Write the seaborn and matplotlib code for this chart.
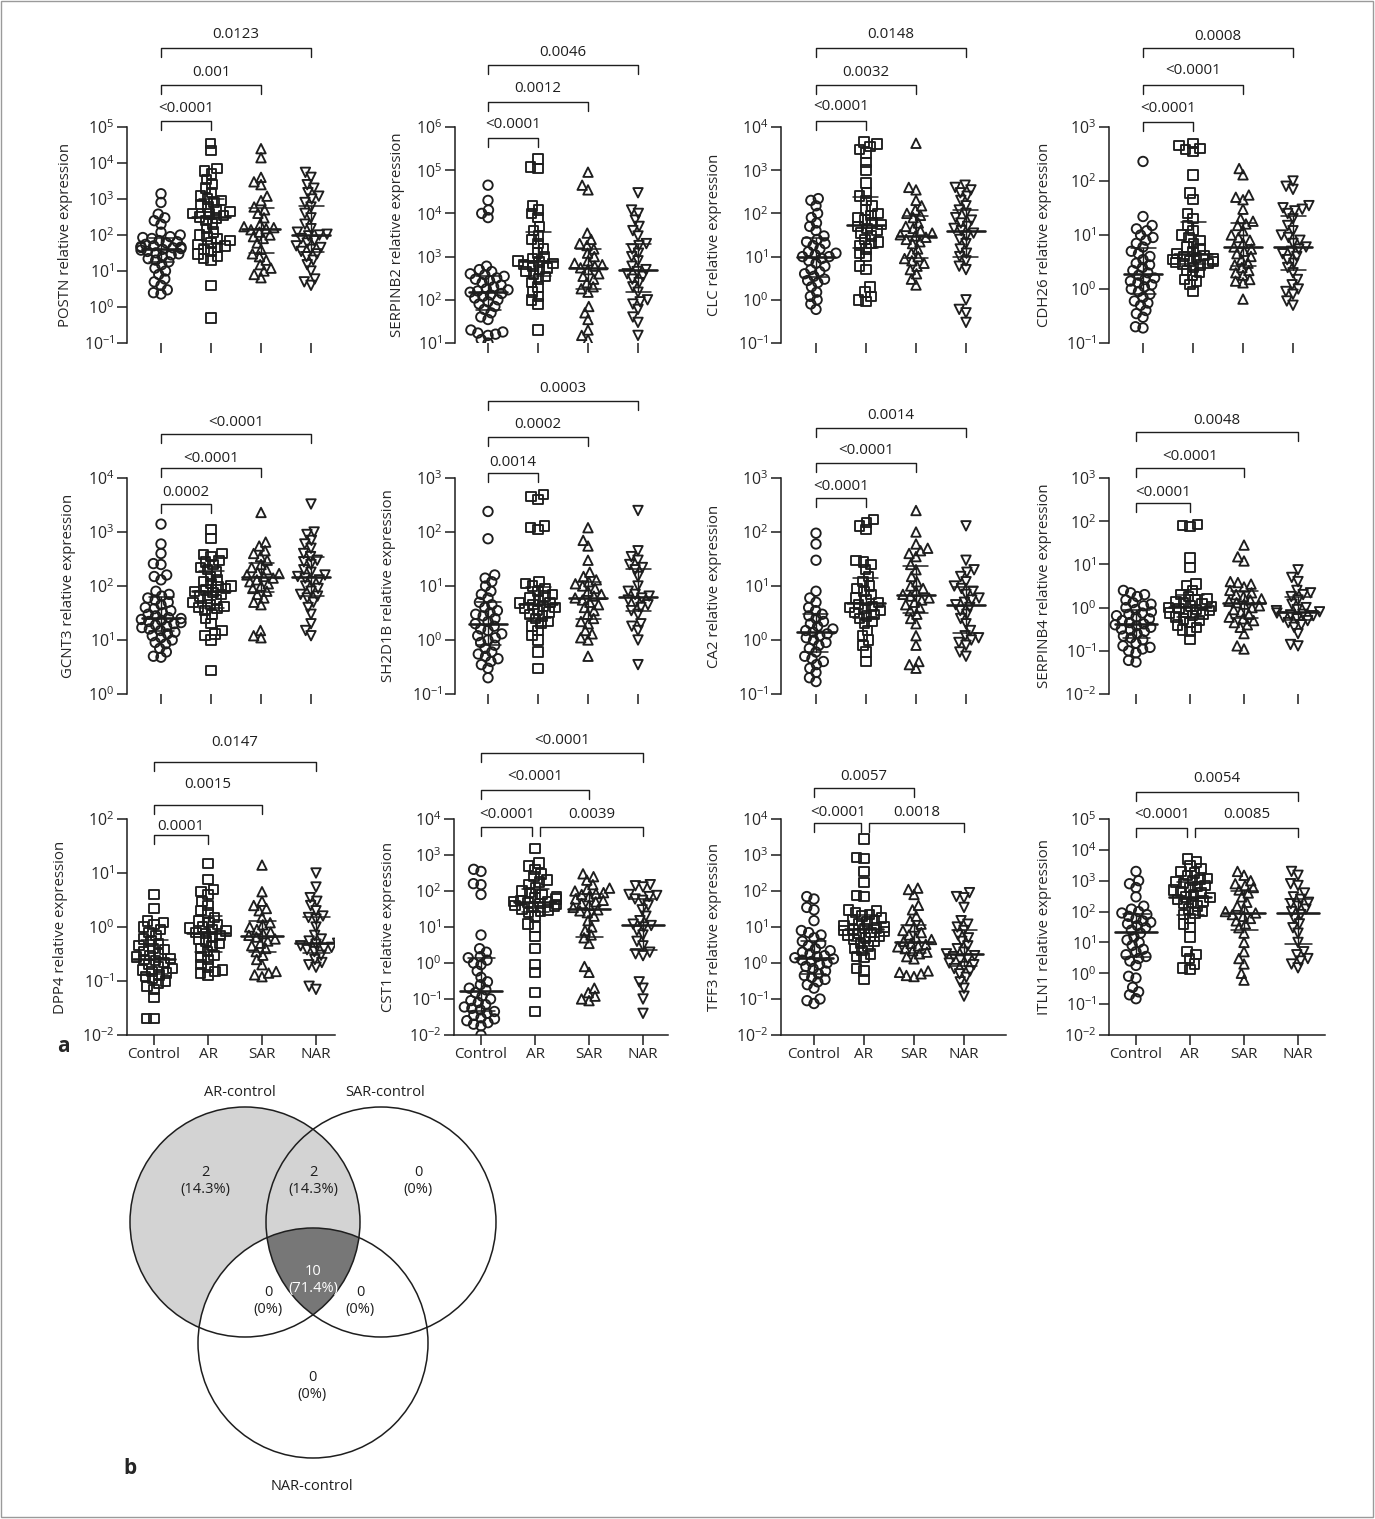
import numpy as np
import matplotlib
matplotlib.use('Agg')
import matplotlib.pyplot as plt
import matplotlib.transforms as mtransforms
from matplotlib.patches import Circle, Rectangle
from matplotlib.ticker import LogFormatterSciNotation, NullLocator, FixedLocator
import seaborn as sns

# ---------------- data ----------------
groups = ['Control', 'AR', 'SAR', 'NAR']

postn_control = [1400, 800, 380, 300, 250, 200, 120, 100, 90, 85, 80, 70, 65, 60, 55, 50, 48, 46, 45, 44, 42, 40, 38, 35, 32, 30, 28, 25, 22, 20, 18, 15, 12, 10, 8, 6, 5, 4, 3, 2.5, 2.3]
postn_ar = [35000, 22000, 7000, 6000, 5000, 3500, 2500, 2000, 1500, 1200, 1000, 900, 800, 700, 600, 500, 450, 400, 380, 350, 320, 300, 250, 200, 150, 120, 100, 90, 80, 70, 60, 55, 50, 45, 40, 35, 30, 25, 22, 20, 4, 0.5]
postn_sar = [25000, 14000, 4000, 3000, 2500, 1200, 900, 600, 500, 400, 300, 200, 170, 160, 150, 140, 120, 100, 90, 80, 60, 40, 30, 25, 20, 15, 12, 10, 8, 6.5]
postn_nar = [5500, 4000, 2500, 2000, 1500, 1200, 1000, 800, 600, 400, 300, 200, 150, 120, 105, 100, 95, 80, 70, 60, 50, 45, 40, 35, 30, 25, 20, 15, 10, 6, 5, 4]

serpinb2_control = [45000, 20000, 12000, 10000, 8000, 600, 500, 450, 400, 380, 350, 320, 300, 280, 250, 220, 200, 180, 170, 160, 150, 140, 130, 120, 110, 100, 90, 80, 70, 60, 50, 40, 35, 20, 18, 17, 16, 15, 12, 10]
serpinb2_ar = [180000, 120000, 110000, 15000, 12000, 10000, 8000, 5000, 4000, 3000, 2500, 2000, 1500, 1200, 1000, 900, 800, 750, 700, 650, 600, 550, 500, 450, 400, 350, 300, 250, 200, 150, 120, 100, 80, 20]
serpinb2_sar = [90000, 45000, 35000, 3500, 2500, 2000, 1800, 1500, 1200, 1000, 800, 700, 650, 600, 550, 500, 400, 350, 300, 250, 200, 180, 150, 70, 50, 35, 20, 15, 12]
serpinb2_nar = [30000, 12000, 10000, 7000, 5000, 4000, 3000, 2000, 1800, 1500, 1200, 1000, 800, 600, 500, 450, 400, 350, 300, 250, 200, 150, 100, 90, 80, 60, 40, 30, 15]

clc_control = [220, 200, 150, 100, 80, 60, 50, 40, 30, 25, 22, 20, 18, 15, 13, 12, 11, 10, 10, 9, 8, 7, 6, 5, 4.5, 4, 3.5, 3, 2.8, 2.5, 2, 1.5, 1.2, 1, 0.8, 0.6]
clc_ar = [4500, 4000, 3500, 3000, 2500, 1500, 1000, 500, 300, 250, 200, 150, 120, 100, 90, 80, 70, 60, 55, 50, 45, 40, 35, 30, 25, 22, 20, 18, 15, 12, 10, 6, 5, 2, 1.5, 1.2, 1, 0.9]
clc_sar = [4200, 400, 350, 200, 150, 120, 100, 90, 80, 60, 50, 45, 40, 35, 32, 30, 28, 25, 22, 20, 15, 12, 10, 9, 8, 7, 6, 5, 4, 3, 2.2]
clc_nar = [450, 400, 350, 300, 250, 200, 150, 120, 100, 80, 70, 60, 50, 45, 40, 35, 30, 25, 20, 15, 12, 10, 8, 6, 5, 1, 0.6, 0.5, 0.3]

cdh26_control = [230, 22, 15, 13, 12, 10, 9, 8, 7, 6, 5, 4.5, 4, 3.5, 3, 2.8, 2.5, 2.2, 2, 1.8, 1.6, 1.5, 1.4, 1.3, 1.2, 1.1, 1, 0.9, 0.8, 0.7, 0.6, 0.55, 0.5, 0.4, 0.35, 0.3, 0.2, 0.19]
cdh26_ar = [500, 450, 400, 380, 350, 130, 60, 45, 25, 20, 15, 12, 10, 9, 8, 7, 6, 5.5, 5, 4.5, 4.2, 4, 3.8, 3.6, 3.5, 3.3, 3.2, 3.1, 3, 2.9, 2.8, 2.5, 2.2, 2, 1.8, 1.5, 1.4, 1.2, 0.9]
cdh26_sar = [170, 130, 55, 50, 45, 30, 20, 18, 16, 15, 12, 10, 9, 8, 7, 6, 5.5, 5, 4.5, 4, 3.5, 3, 2.8, 2.5, 2.2, 2, 1.8, 1.5, 1.4, 1.3, 0.65]
cdh26_nar = [100, 80, 70, 35, 32, 30, 28, 25, 20, 15, 12, 10, 9, 8, 7, 6, 5.5, 5, 4.5, 4, 3.5, 3, 2.5, 2, 1.5, 1.2, 1, 0.9, 0.8, 0.6, 0.5]

gcnt3_control = [1400, 600, 400, 260, 250, 160, 150, 130, 80, 70, 65, 60, 55, 50, 45, 40, 38, 35, 32, 30, 28, 26, 25, 24, 23, 22, 21, 20, 19, 18, 17, 16, 15, 14, 13, 12, 11, 10, 9, 8.5, 7, 6, 5, 4.8]
gcnt3_ar = [1100, 750, 400, 380, 350, 300, 280, 250, 220, 200, 180, 150, 130, 120, 110, 100, 95, 90, 85, 80, 75, 70, 65, 60, 55, 50, 45, 42, 40, 38, 35, 30, 25, 20, 15, 13, 12, 10, 2.7]
gcnt3_sar = [2300, 650, 550, 450, 400, 350, 300, 250, 220, 200, 180, 170, 160, 150, 140, 130, 120, 110, 100, 90, 80, 70, 60, 50, 45, 15, 12, 11]
gcnt3_nar = [3300, 1000, 900, 700, 600, 500, 400, 350, 300, 280, 250, 200, 180, 160, 150, 140, 130, 120, 100, 90, 80, 70, 65, 60, 50, 40, 30, 20, 15, 12]

sh2d1b_control = [240, 75, 16, 14, 12, 10, 8, 7, 6, 5, 4.5, 4, 3.5, 3.2, 3, 2.8, 2.5, 2.2, 2, 1.8, 1.6, 1.5, 1.3, 1.2, 1.1, 1, 0.9, 0.8, 0.7, 0.6, 0.55, 0.5, 0.45, 0.4, 0.35, 0.3, 0.2]
sh2d1b_ar = [500, 450, 400, 130, 120, 110, 12, 11, 10, 9, 8, 7, 6.5, 6, 5.5, 5, 4.8, 4.5, 4.2, 4, 3.8, 3.5, 3.3, 3, 2.8, 2.5, 2.2, 2, 1.8, 1.5, 1.2, 1, 0.6, 0.3]
sh2d1b_sar = [120, 70, 55, 30, 18, 15, 13, 12, 11, 10, 9, 8, 7, 6.5, 6, 5.5, 5, 4.5, 4, 3.5, 3, 2.5, 2.2, 2, 1.5, 1.3, 1.1, 1, 0.5]
sh2d1b_nar = [250, 45, 35, 30, 25, 22, 20, 15, 10, 8, 7, 6.5, 6, 5.5, 5, 4.5, 4, 3.5, 3, 2, 1.8, 1.5, 1, 0.35]

ca2_control = [95, 60, 30, 8, 6, 5, 4, 3.5, 3, 2.8, 2.5, 2.2, 2, 1.8, 1.6, 1.5, 1.4, 1.3, 1.2, 1.1, 1, 0.9, 0.8, 0.7, 0.6, 0.5, 0.45, 0.4, 0.35, 0.3, 0.25, 0.2, 0.17]
ca2_ar = [170, 150, 130, 110, 30, 28, 25, 20, 15, 12, 10, 9, 8, 7, 6, 5.5, 5, 4.5, 4.2, 4, 3.8, 3.5, 3.2, 3, 2.8, 2.5, 2.2, 2, 1.5, 1.2, 1, 0.8, 0.6, 0.4]
ca2_sar = [250, 100, 60, 50, 45, 40, 35, 25, 20, 15, 12, 10, 9, 8, 7, 6.5, 6, 5.5, 5, 4.5, 4, 3.5, 3, 2.5, 2, 1.2, 0.8, 0.4, 0.35, 0.3]
ca2_nar = [130, 30, 20, 18, 15, 12, 10, 9, 8, 7, 6, 5.5, 5, 4.5, 4, 3.5, 3, 2.5, 2, 1.5, 1.2, 1.1, 1, 0.9, 0.8, 0.6, 0.5]

serpinb4_control = [2.5, 2.2, 2, 1.8, 1.5, 1.3, 1.2, 1.1, 1, 0.9, 0.8, 0.75, 0.7, 0.65, 0.6, 0.55, 0.5, 0.45, 0.42, 0.4, 0.38, 0.35, 0.32, 0.3, 0.28, 0.25, 0.22, 0.2, 0.18, 0.15, 0.13, 0.12, 0.11, 0.1, 0.09, 0.06, 0.055]
serpinb4_ar = [85, 80, 75, 14, 8.5, 3.5, 3.2, 2.5, 2, 1.8, 1.6, 1.5, 1.4, 1.3, 1.2, 1.1, 1.05, 1, 0.95, 0.9, 0.85, 0.8, 0.75, 0.7, 0.65, 0.6, 0.55, 0.5, 0.45, 0.4, 0.35, 0.3, 0.28, 0.18]
serpinb4_sar = [28, 15, 12, 4, 3.8, 3.5, 3, 2.5, 2.2, 2, 1.8, 1.6, 1.5, 1.4, 1.3, 1.2, 1.1, 1, 0.9, 0.8, 0.7, 0.6, 0.55, 0.5, 0.45, 0.4, 0.35, 0.25, 0.13, 0.11]
serpinb4_nar = [7.5, 5, 4, 2.5, 2.2, 2, 1.8, 1.5, 1.2, 1, 0.9, 0.85, 0.8, 0.75, 0.7, 0.68, 0.65, 0.6, 0.55, 0.5, 0.45, 0.4, 0.35, 0.25, 0.14, 0.13]

dpp4_control = [4, 2.2, 1.3, 1.2, 1.1, 1, 0.9, 0.8, 0.7, 0.6, 0.55, 0.5, 0.45, 0.4, 0.38, 0.35, 0.32, 0.3, 0.28, 0.26, 0.25, 0.24, 0.22, 0.2, 0.18, 0.17, 0.16, 0.15, 0.14, 0.13, 0.12, 0.11, 0.1, 0.09, 0.08, 0.07, 0.05, 0.02, 0.02]
dpp4_ar = [15, 7.5, 5, 4.5, 4, 3, 2.5, 2, 1.8, 1.5, 1.3, 1.2, 1.1, 1, 0.95, 0.9, 0.85, 0.8, 0.75, 0.7, 0.65, 0.6, 0.55, 0.5, 0.45, 0.4, 0.35, 0.3, 0.28, 0.25, 0.2, 0.18, 0.16, 0.15, 0.14, 0.13]
dpp4_sar = [14, 4.5, 3, 2.5, 2.2, 2, 1.5, 1.2, 1.1, 1, 0.9, 0.8, 0.75, 0.7, 0.65, 0.6, 0.55, 0.5, 0.45, 0.4, 0.35, 0.3, 0.25, 0.2, 0.15, 0.14, 0.13, 0.12]
dpp4_nar = [10, 5.5, 3.5, 3, 2.5, 2, 1.6, 1.5, 1.4, 1, 0.7, 0.6, 0.55, 0.5, 0.48, 0.45, 0.42, 0.4, 0.38, 0.35, 0.3, 0.25, 0.22, 0.2, 0.18, 0.08, 0.07]

cst1_control = [400, 350, 160, 150, 80, 6, 2.5, 2, 1.5, 1.4, 1.2, 1, 0.9, 0.6, 0.4, 0.3, 0.25, 0.2, 0.18, 0.15, 0.12, 0.1, 0.09, 0.08, 0.07, 0.06, 0.055, 0.05, 0.045, 0.04, 0.035, 0.03, 0.028, 0.025, 0.022, 0.02, 0.018, 0.01]
cst1_ar = [1500, 600, 500, 400, 300, 250, 200, 180, 150, 120, 100, 90, 80, 70, 65, 60, 55, 52, 50, 48, 45, 42, 40, 38, 35, 32, 30, 28, 25, 20, 12, 10, 5.5, 2.5, 0.9, 0.55, 0.15, 0.045]
cst1_sar = [300, 250, 200, 150, 120, 110, 100, 90, 85, 80, 70, 60, 55, 50, 45, 40, 35, 30, 28, 25, 20, 15, 10, 8, 6, 5, 3.5, 0.8, 0.55, 0.2, 0.15, 0.12, 0.1, 0.09]
cst1_nar = [150, 140, 130, 80, 75, 70, 60, 55, 40, 30, 20, 15, 12, 11, 10, 8, 6, 4, 3, 2, 1.8, 1.6, 0.3, 0.2, 0.1, 0.04]

tff3_control = [70, 60, 35, 30, 15, 8, 7, 6, 5, 4, 3.5, 3, 2.5, 2.2, 2, 1.8, 1.6, 1.5, 1.4, 1.3, 1.2, 1.1, 1, 0.9, 0.8, 0.7, 0.6, 0.5, 0.45, 0.4, 0.35, 0.3, 0.25, 0.2, 0.1, 0.09, 0.075]
tff3_ar = [2800, 850, 800, 350, 170, 75, 70, 30, 28, 25, 22, 20, 18, 16, 15, 14, 12, 11, 10, 9.5, 9, 8.5, 8, 7.5, 7, 6.5, 6, 5.5, 5, 4.5, 4, 3.5, 3, 2.5, 2.2, 1.8, 1.5, 1.4, 0.7, 0.6, 0.35]
tff3_sar = [120, 110, 80, 40, 30, 20, 15, 12, 10, 8, 7, 6, 5, 4.5, 4, 3.5, 3.3, 3, 2.8, 2.5, 2.2, 2, 1.8, 1.5, 1.3, 0.6, 0.55, 0.5, 0.45, 0.42]
tff3_nar = [90, 70, 65, 35, 15, 12, 10, 8, 6, 5, 4, 3, 2.5, 2, 1.8, 1.6, 1.5, 1.3, 1.2, 1, 0.9, 0.8, 0.7, 0.6, 0.5, 0.4, 0.3, 0.2, 0.12]

itln1_control = [2000, 1000, 800, 600, 300, 150, 120, 100, 90, 80, 70, 60, 50, 45, 40, 35, 30, 25, 20, 15, 12, 10, 8, 6, 5, 4, 3.5, 3, 2.5, 1.8, 0.8, 0.7, 0.35, 0.25, 0.2, 0.15]
itln1_ar = [5000, 4000, 3000, 2500, 2000, 1800, 1500, 1200, 1100, 1000, 900, 800, 700, 650, 600, 500, 450, 400, 350, 300, 280, 250, 220, 200, 180, 150, 120, 100, 90, 80, 60, 40, 30, 15, 5, 4, 3, 2, 1.5, 1.3]
itln1_sar = [2000, 1500, 1000, 800, 700, 600, 500, 400, 300, 200, 150, 120, 100, 90, 80, 70, 60, 50, 40, 30, 20, 10, 5, 3, 2, 1, 0.6]
itln1_nar = [2000, 1500, 800, 700, 400, 300, 250, 200, 180, 150, 120, 100, 80, 60, 40, 30, 20, 10, 5, 4, 3, 2.5, 2, 1.5]

genes = ['POSTN', 'SERPINB2', 'CLC', 'CDH26', 'GCNT3', 'SH2D1B', 'CA2', 'SERPINB4',
         'DPP4', 'CST1', 'TFF3', 'ITLN1']
values = {
    'POSTN': [postn_control, postn_ar, postn_sar, postn_nar],
    'SERPINB2': [serpinb2_control, serpinb2_ar, serpinb2_sar, serpinb2_nar],
    'CLC': [clc_control, clc_ar, clc_sar, clc_nar],
    'CDH26': [cdh26_control, cdh26_ar, cdh26_sar, cdh26_nar],
    'GCNT3': [gcnt3_control, gcnt3_ar, gcnt3_sar, gcnt3_nar],
    'SH2D1B': [sh2d1b_control, sh2d1b_ar, sh2d1b_sar, sh2d1b_nar],
    'CA2': [ca2_control, ca2_ar, ca2_sar, ca2_nar],
    'SERPINB4': [serpinb4_control, serpinb4_ar, serpinb4_sar, serpinb4_nar],
    'DPP4': [dpp4_control, dpp4_ar, dpp4_sar, dpp4_nar],
    'CST1': [cst1_control, cst1_ar, cst1_sar, cst1_nar],
    'TFF3': [tff3_control, tff3_ar, tff3_sar, tff3_nar],
    'ITLN1': [itln1_control, itln1_ar, itln1_sar, itln1_nar],
}
# y-axis decades (exponent of lowest and highest tick)
y_decades = [(-1, 5), (1, 6), (-1, 4), (-1, 3), (0, 4), (-1, 3), (-1, 3), (-2, 3),
             (-2, 2), (-2, 4), (-2, 4), (-2, 5)]

# p-value brackets: (group a, group b, label)
pvals = [
    [(0, 1, '<0.0001'), (0, 2, '0.001'), (0, 3, '0.0123')],
    [(0, 1, '<0.0001'), (0, 2, '0.0012'), (0, 3, '0.0046')],
    [(0, 1, '<0.0001'), (0, 2, '0.0032'), (0, 3, '0.0148')],
    [(0, 1, '<0.0001'), (0, 2, '<0.0001'), (0, 3, '0.0008')],
    [(0, 1, '0.0002'), (0, 2, '<0.0001'), (0, 3, '<0.0001')],
    [(0, 1, '0.0014'), (0, 2, '0.0002'), (0, 3, '0.0003')],
    [(0, 1, '<0.0001'), (0, 2, '<0.0001'), (0, 3, '0.0014')],
    [(0, 1, '<0.0001'), (0, 2, '<0.0001'), (0, 3, '0.0048')],
    [(0, 1, '0.0001'), (0, 2, '0.0015'), (0, 3, '0.0147')],
    [(0, 1, '<0.0001'), (1, 3, '0.0039'), (0, 2, '<0.0001'), (0, 3, '<0.0001')],
    [(0, 1, '<0.0001'), (1, 3, '0.0018'), (0, 2, '0.0057')],
    [(0, 1, '<0.0001'), (1, 3, '0.0085'), (0, 3, '0.0054')],
]

venn_sets = ['AR-control', 'SAR-control', 'NAR-control']
# region key = membership in (AR, SAR, NAR)
venn_counts = {'100': 2, '110': 2, '010': 0, '111': 10, '101': 0, '011': 0, '001': 0}

# ---------------- layout (pixels in the 1375 x 1519 canvas) ----------------
W, H = 1375, 1519
AX_H = 216
# left, top, control x, category spacing, right, ylabel centre offset
panel_px = [
    (127, 127, 161, 50, 336, 62), (455, 127, 488, 50, 663, 58),
    (781, 127, 816, 50, 991, 66), (1109, 127, 1143, 50, 1318, 64),
    (127, 478, 161, 50, 336, 59), (455, 478, 488, 50, 663, 67),
    (781, 478, 816, 50, 991, 66), (1109, 478, 1136, 54, 1325, 64),
    (127, 819, 154, 54, 335, 67), (454, 819, 481, 54, 668, 66),
    (781, 819, 814, 50, 1006, 66), (1109, 819, 1136, 54, 1325, 64),
]
# bracket (line y, text centre y) in pixels, in the order of pvals
bracket_px = [
    [(121, 108), (85, 72), (48, 35)],
    [(138, 125), (102, 89), (65, 52)],
    [(121, 107), (85, 72), (48, 35)],
    [(122, 108), (85, 71), (48, 36)],
    [(504, 493), (468, 458), (434, 422)],
    [(473, 462), (437, 425), (401, 388)],
    [(498, 487), (463, 451), (428, 416)],
    [(503, 492), (468, 457), (432, 421)],
    [(835, 826), (805, 785), (762, 743)],
    [(827, 815), (827, 815), (790, 777), (753, 740)],
    [(823, 813), (823, 813), (788, 776)],
    [(828, 815), (828, 815), (792, 779)],
]

PACK_SIZE = 3.9   # marker size used to pack the swarm (points overlap like GraphPad)
MARK_SIZE = 6.8   # marker size actually drawn

sns.set_style('ticks')
plt.rcParams['font.family'] = ['Open Sans', 'DejaVu Sans']
plt.rcParams['mathtext.fontset'] = 'custom'
plt.rcParams['mathtext.rm'] = 'Open Sans'
plt.rcParams['mathtext.default'] = 'regular'
INK = '#1e1e1e'

fig = plt.figure(figsize=(W / 100, H / 100), dpi=100)
swarm_axes = []

for k, gene in enumerate(genes):
    left, top, ctrl, sp, right, lab_off = panel_px[k]
    ax = fig.add_axes([left / W, 1 - (top + AX_H) / H, (right - left) / W, AX_H / H])
    swarm_axes.append(ax)
    marks = ['s', 's', '^', 'v'] if gene == 'DPP4' else ['o', 's', '^', 'v']

    for g, grp in enumerate(groups):
        vals = values[gene][g]
        sns.swarmplot(x=[grp] * len(vals), y=vals, order=groups, marker=marks[g],
                      size=PACK_SIZE, color='white', edgecolor=INK, linewidth=1.35,
                      log_scale=True, warn_thresh=1, ax=ax, zorder=3)
    for coll in ax.collections:
        coll.set_facecolor('none')

    # median with interquartile range
    for g, vals in enumerate(values[gene]):
        q1, med, q3 = np.percentile(vals, [25, 50, 75])
        ax.plot([g - 0.38, g + 0.38], [med, med], color=INK, lw=1.9, zorder=4)
        ax.plot([g, g], [q1, q3], color=INK, lw=1, zorder=4)
        for q in (q1, q3):
            ax.plot([g - 0.25, g + 0.25], [q, q], color=INK, lw=1.1, zorder=4)

    lo, hi = y_decades[k]
    ax.set_ylim(10.0 ** lo, 10.0 ** hi)
    ax.yaxis.set_major_locator(FixedLocator([10.0 ** e for e in range(lo, hi + 1)]))
    ax.yaxis.set_major_formatter(LogFormatterSciNotation())
    ax.yaxis.set_minor_locator(NullLocator())
    ax.set_xlim((left - ctrl) / sp, (right - ctrl) / sp)
    ax.set_xticks(range(4))
    ax.set_xlabel('')

    ax.spines['top'].set_visible(False)
    ax.spines['right'].set_visible(False)
    for s in ax.spines.values():
        s.set_color(INK)
        s.set_linewidth(1.1)
    ax.tick_params(axis='both', length=7, width=1.1, color=INK, labelsize=11.5, pad=2)
    if k < 8:
        ax.spines['bottom'].set_visible(False)
        ax.set_xticklabels([])
    else:
        ax.set_xticklabels(groups, fontsize=11)

    ax.set_ylabel(f'{gene} relative expression', fontsize=10.8)
    ax.yaxis.set_label_coords(-lab_off / (right - left), 0.5)
    ax.yaxis.label.set_verticalalignment('center')

    # significance brackets
    tr = mtransforms.blended_transform_factory(ax.transData, fig.transFigure)
    two_sided = any(a == 1 for a, _, _ in pvals[k])
    for (a, b, lab), (ly, ty) in zip(pvals[k], bracket_px[k]):
        x1 = a + (0.1 if a == 1 else 0)
        x2 = b - (0.05 if (two_sided and a == 0 and b == 1) else 0)
        y = 1 - ly / H
        dy = 9 / H
        ax.plot([x1, x1, x2, x2], [y - dy, y, y, y - dy], transform=tr,
                color=INK, lw=1, clip_on=False)
        ax.text((x1 + x2) / 2, 1 - ty / H, lab, transform=tr, ha='center',
                va='center', fontsize=10.8, color=INK)

# ---------------- overlay: Venn diagram and panel letters ----------------
ov = fig.add_axes([0, 0, 1, 1])
centers = [(245, 1222), (381, 1222), (313, 1343)]
R = 115
xs = np.linspace(110, 520, 821)
ys = np.linspace(1090, 1470, 761)
X, Y = np.meshgrid(xs, ys)
inside = [(X - cx) ** 2 + (Y - cy) ** 2 <= R ** 2 for cx, cy in centers]


def shade(n):
    if n == 0:
        return (1, 1, 1)
    return (0.83, 0.83, 0.83) if n < 5 else (0.47, 0.47, 0.47)


img = np.ones(X.shape + (3,))
for key, n in venn_counts.items():
    m = np.ones(X.shape, bool)
    for bit, ins in zip(key, inside):
        m &= ins if bit == '1' else ~ins
    img[m] = shade(n)
ov.imshow(img, extent=(xs[0], xs[-1], ys[-1], ys[0]), origin='upper',
          aspect='auto', interpolation='bilinear', zorder=0)
for cx, cy in centers:
    ov.add_patch(Circle((cx, cy), R, fill=False, ec=INK, lw=1.1, zorder=2))

total = sum(venn_counts.values())
region_xy = {'100': (205, 1181), '110': (313, 1181), '010': (418, 1181),
             '111': (313, 1280), '101': (268, 1301), '011': (360, 1301),
             '001': (312, 1386)}
for key, n in venn_counts.items():
    pct = '0%' if n == 0 else f'{100 * n / total:.1f}%'
    tx, ty = region_xy[key]
    ov.text(tx, ty, f'{n}\n({pct})', ha='center', va='center', fontsize=10.5,
            color='white' if n >= 5 else INK, linespacing=1.1, zorder=3)
label_xy = [(240, 1093), (385, 1093), (312, 1486)]
for name, (tx, ty) in zip(venn_sets, label_xy):
    ov.text(tx, ty, name, ha='center', va='center', fontsize=10.5, color=INK)

ov.text(63, 1047, 'a', ha='center', va='center', fontsize=15, fontweight='bold')
ov.text(130, 1469, 'b', ha='center', va='center', fontsize=15, fontweight='bold')

# thin frame around the whole figure
ov.add_patch(Rectangle((1, 1), W - 3, H - 3, fill=False, ec='#9a9a9a', lw=1))

ov.set_xlim(0, W)
ov.set_ylim(H, 0)
ov.axis('off')

# pack the swarms with small markers, then freeze them and draw bigger markers
fig.canvas.draw()
for ax in swarm_axes:
    for coll in ax.collections:
        if 'draw' in coll.__dict__:
            del coll.draw
        coll.set_sizes([MARK_SIZE ** 2])

fig.savefig('out.png', dpi=100)
